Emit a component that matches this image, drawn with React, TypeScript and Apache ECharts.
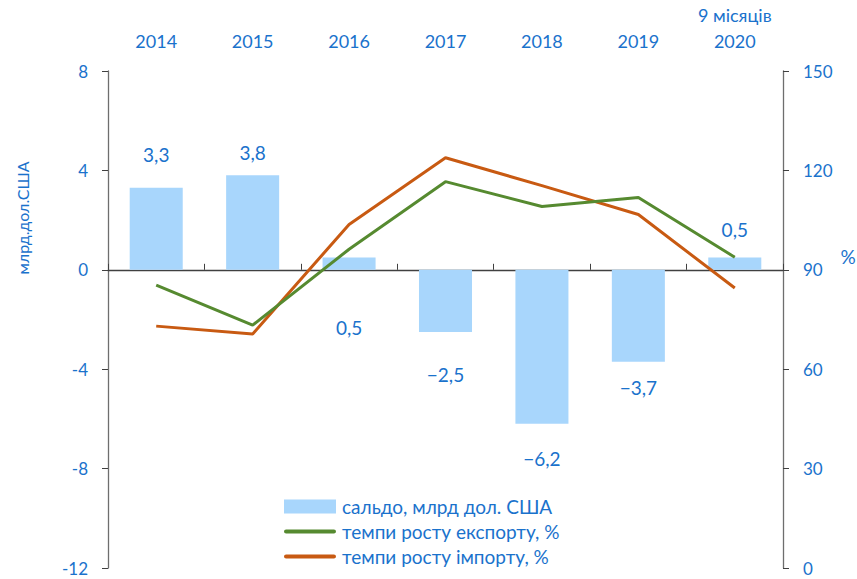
import React, { useEffect, useRef } from "react";
import * as echarts from "echarts";

const categories = ["2014", "2015", "2016", "2017", "2018", "2019", "9 місяців\n2020"];
const balance = [3.3, 3.8, 0.5, -2.5, -6.2, -3.7, 0.5];
const exportGrowth = [85.4, 73.3, 96.2, 116.6, 109.1, 111.8, 93.8];
const importGrowth = [73.0, 70.6, 103.7, 123.8, 115.4, 106.7, 84.5];
const leftTicks = [-12, -8, -4, 0, 4, 8];
const rightTicks = [0, 30, 60, 90, 120, 150];

const seriesNames = ["сальдо, млрд дол. США", "темпи росту експорту, %", "темпи росту імпорту, %"];

// label placement (style only)
const labelPos = ["top", "top", "bottom", "bottom", "bottom", "bottom", "top"];
const labelDist = [24, 13, 48, 33, 25, 16, 18];

const BLUE = "#1a72cc";
const GREEN = "#568a30";
const ORANGE = "#c85a12";
const FONT = "Lato, 'Open Sans', sans-serif";
const LINE_ICON = "path://M4,0 L96,0 A4,4 0 0 1 96,8 L4,8 A4,4 0 0 1 4,0 Z";

export default function App() {
  const ref = useRef<HTMLDivElement>(null);
  useEffect(() => {
    const chart = echarts.init(ref.current!, null, { renderer: "svg" });
    const fmt = (v: number) => (v < 0 ? "\u2212" : "") + Math.abs(v).toFixed(1).replace(".", ",");
    chart.setOption({
      animation: false,
      textStyle: { fontFamily: FONT },
      grid: { left: 108, right: 74, top: 71, bottom: 11, containLabel: false },
      legend: {
        orient: "vertical",
        left: 279,
        top: 492,
        itemGap: 6,
        itemWidth: 52,
        itemHeight: 14,
        textStyle: { color: BLUE, fontSize: 19, fontFamily: FONT, padding: [0, 0, 0, 1] },
        data: [
          { name: seriesNames[0], icon: "rect" },
          { name: seriesNames[1], icon: LINE_ICON, itemStyle: { color: GREEN } },
          { name: seriesNames[2], icon: LINE_ICON, itemStyle: { color: ORANGE } },
        ],
      },
      graphic: [
        {
          type: "text",
          x: 22,
          y: 218,
          rotation: Math.PI / 2,
          style: {
            text: "млрд.дол.США",
            fill: BLUE,
            font: `16px ${FONT}`,
            align: "center",
            verticalAlign: "middle",
          },
        },
        {
          type: "text",
          x: 848,
          y: 256,
          style: {
            text: "%",
            fill: BLUE,
            font: `19px ${FONT}`,
            align: "center",
            verticalAlign: "middle",
          },
        },
      ],
      xAxis: [
        {
          type: "category",
          data: categories,
          position: "top",
          axisLine: { show: false },
          axisTick: { show: false },
          axisLabel: { color: BLUE, fontSize: 18, fontFamily: FONT, margin: 17, lineHeight: 26 },
        },
        {
          type: "category",
          data: categories,
          position: "bottom",
          axisLine: { show: true, onZero: true, onZeroAxisIndex: 0, lineStyle: { color: "#404040", width: 1.3 } },
          axisTick: { show: true, inside: true, length: 6, lineStyle: { color: "#404040" } },
          axisLabel: { show: false },
        },
      ],
      yAxis: [
        {
          type: "value",
          min: leftTicks[0],
          max: leftTicks[leftTicks.length - 1],
          interval: 4,
          splitLine: { show: false },
          axisLine: { show: true, onZero: false, lineStyle: { color: "#6e6e6e", width: 1.3 } },
          axisTick: { show: true, length: 6, lineStyle: { color: "#404040" } },
          axisLabel: { color: BLUE, fontSize: 17, lineHeight: 15, fontFamily: FONT, margin: 20 },
        },
        {
          type: "value",
          min: rightTicks[0],
          max: rightTicks[rightTicks.length - 1],
          interval: 30,
          position: "right",
          splitLine: { show: false },
          axisLine: { show: true, onZero: false, lineStyle: { color: "#6e6e6e", width: 1.3 } },
          axisTick: { show: true, length: 6, lineStyle: { color: "#404040" } },
          axisLabel: { color: BLUE, fontSize: 17, lineHeight: 15, fontFamily: FONT, margin: 20 },
        },
      ],
      series: [
        {
          name: seriesNames[0],
          type: "bar",
          xAxisIndex: 0,
          yAxisIndex: 0,
          barWidth: "55%",
          itemStyle: { color: "#a8d6fc" },
          data: balance.map((v, i) => ({
            value: v,
            label: {
              show: true,
              position: labelPos[i],
              distance: labelDist[i],
              formatter: () => fmt(v),
              color: BLUE,
              fontSize: 19,
              fontFamily: FONT,
            },
          })),
          z: 1,
        },
        {
          name: seriesNames[1],
          type: "line",
          xAxisIndex: 0,
          yAxisIndex: 1,
          data: exportGrowth,
          showSymbol: false,
          symbol: "none",
          lineStyle: { color: GREEN, width: 3 },
          itemStyle: { color: GREEN },
          z: 3,
        },
        {
          name: seriesNames[2],
          type: "line",
          xAxisIndex: 0,
          yAxisIndex: 1,
          data: importGrowth,
          showSymbol: false,
          symbol: "none",
          lineStyle: { color: ORANGE, width: 3 },
          itemStyle: { color: ORANGE },
          z: 2,
        },
      ],
    });
    return () => chart.dispose();
  }, []);
  return <div ref={ref} style={{ width: 857, height: 579, position: "absolute", left: 0, top: 0 }} />;
}
